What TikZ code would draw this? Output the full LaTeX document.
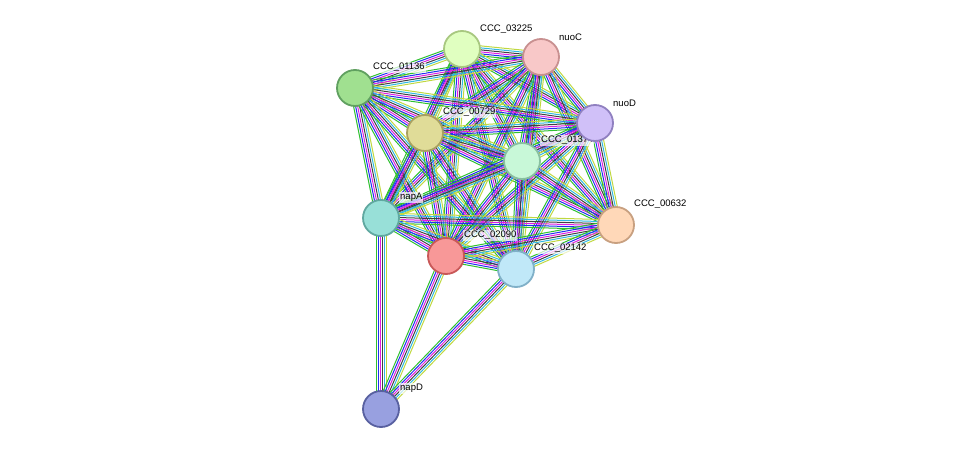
\documentclass[tikz,border=0pt]{standalone}
\usepackage{fontspec}
\setmainfont{Liberation Sans}
\usetikzlibrary{calc}
\definecolor{eGreen}{HTML}{30C030}
\definecolor{eBlue}{HTML}{2030F0}
\definecolor{eMag}{HTML}{E020E0}
\definecolor{eBlack}{HTML}{404040}
\definecolor{eCyan}{HTML}{30B8E0}
\definecolor{eYel}{HTML}{C0D840}
\tikzset{
  prot/.style={circle, minimum size=36pt, inner sep=0pt, line width=1.8pt},
  lab/.style={font=\fontsize{9.5}{11}\selectfont, inner sep=1pt, fill=white, fill opacity=0.7, text opacity=1},
  edge/.style={line width=1pt}
}
\begin{document}
\begin{tikzpicture}[x=1pt,y=-1pt]
  \useasboundingbox (0,0) rectangle (975,455);
  % node positions
  \coordinate (c03225) at (462,49);
  \coordinate (nuoC) at (541,57);
  \coordinate (c01136) at (355,88);
  \coordinate (c00729) at (425,133);
  \coordinate (nuoD) at (595,123);
  \coordinate (c01) at (522,161);
  \coordinate (napA) at (381,218);
  \coordinate (c00632) at (616,225);
  \coordinate (c02090) at (446,256);
  \coordinate (c02142) at (516,269);
  \coordinate (napD) at (381,409);
  % edges
  \foreach \a/\b in {c03225/nuoC,c03225/c01136,c03225/c00729,c03225/nuoD,c03225/c01,c03225/napA,c03225/c00632,c03225/c02090,c03225/c02142,
    nuoC/c01136,nuoC/c00729,nuoC/nuoD,nuoC/c01,nuoC/napA,nuoC/c00632,nuoC/c02090,nuoC/c02142,
    c01136/c00729,c01136/nuoD,c01136/c01,c01136/napA,c01136/c02090,c01136/c02142,
    c00729/nuoD,c00729/c01,c00729/napA,c00729/c00632,c00729/c02090,c00729/c02142,
    nuoD/c01,nuoD/napA,nuoD/c00632,nuoD/c02090,nuoD/c02142,
    c01/napA,c01/c00632,c01/c02090,c01/c02142,
    napA/c00632,napA/c02090,napA/c02142,napA/napD,
    c00632/c02090,c00632/c02142,c02090/c02142,c02090/napD,c02142/napD}
  {
    \foreach \k/\col in {-5/eGreen,-3/eBlue,-1/eMag,1/eBlack,3/eCyan,5/eYel}
      \draw[edge,\col] ($(\a)!\k pt!90:(\b)$) -- ($(\b)!\k pt!-90:(\a)$);
  }
  % labels
  \node[lab, anchor=south west] at (479,35) {CCC\_03225};
  \node[lab, anchor=south west] at (558,42) {nuoC};
  \node[lab, anchor=south west] at (372,73) {CCC\_01136};
  \node[lab, anchor=south west] at (442,118) {CCC\_00729};
  \node[lab, anchor=south west] at (612,108) {nuoD};
  \node[lab, anchor=south west] at (540,146) {CCC\_01374};
  \node[lab, anchor=south west] at (399,203) {napA};
  \node[lab, anchor=south west] at (633,210) {CCC\_00632};
  \node[lab, anchor=south west] at (463,241) {CCC\_02090};
  \node[lab, anchor=south west] at (533,254) {CCC\_02142};
  \node[lab, anchor=south west] at (399,394) {napD};
  % proteins
  \node[prot, fill={rgb,255:red,224;green,255;blue,192}, draw={rgb,255:red,168;green,200;blue,128}] (n03225) at (c03225) {};
  \node[prot, fill={rgb,255:red,248;green,200;blue,200}, draw={rgb,255:red,200;green,144;blue,144}] (nnuoC) at (nuoC) {};
  \node[prot, fill={rgb,255:red,160;green,224;blue,144}, draw={rgb,255:red,96;green,160;blue,96}] (n01136) at (c01136) {};
  \node[prot, fill={rgb,255:red,224;green,220;blue,152}, draw={rgb,255:red,168;green,160;blue,96}] (n00729) at (c00729) {};
  \node[prot, fill={rgb,255:red,208;green,192;blue,248}, draw={rgb,255:red,144;green,128;blue,192}] (nnuoD) at (nuoD) {};
  \node[prot, fill={rgb,255:red,200;green,248;blue,216}, draw={rgb,255:red,136;green,192;blue,160}] (n01) at (c01) {};
  \node[prot, fill={rgb,255:red,152;green,224;blue,216}, draw={rgb,255:red,96;green,168;blue,160}] (nnapA) at (napA) {};
  \node[prot, fill={rgb,255:red,255;green,216;blue,184}, draw={rgb,255:red,200;green,160;blue,128}] (n00632) at (c00632) {};
  \node[prot, fill={rgb,255:red,248;green,152;blue,152}, draw={rgb,255:red,200;green,88;blue,88}] (n02090) at (c02090) {};
  \node[prot, fill={rgb,255:red,192;green,232;blue,248}, draw={rgb,255:red,128;green,176;blue,200}] (n02142) at (c02142) {};
  \node[prot, fill={rgb,255:red,152;green,160;blue,224}, draw={rgb,255:red,88;green,96;blue,160}] (nnapD) at (napD) {};
\end{tikzpicture}
\end{document}
